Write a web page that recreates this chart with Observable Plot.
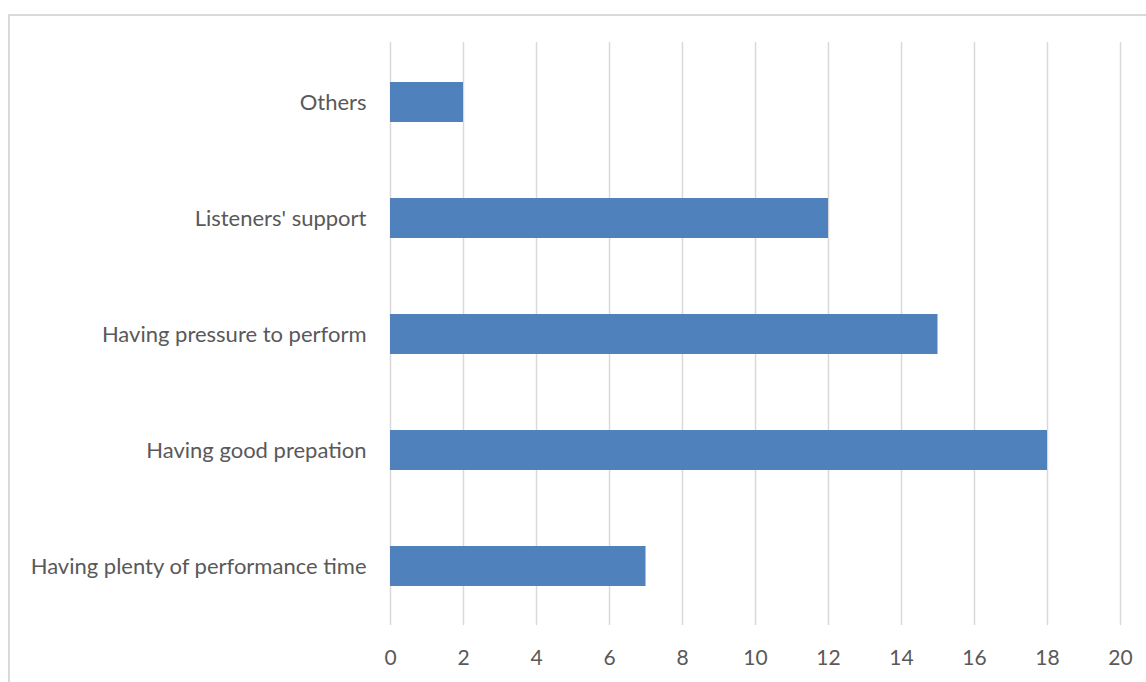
<!DOCTYPE html>
<html>
<head>
<meta charset="utf-8">
<script src="https://cdn.jsdelivr.net/npm/d3@7"></script>
<script src="https://cdn.jsdelivr.net/npm/@observablehq/plot@0.6"></script>
<style>
  html, body { margin: 0; padding: 0; background: #fff; overflow: hidden; }
  #wrap { position: relative; width: 1146px; height: 682px; }
  #frame { position: absolute; left: 8px; top: 14px; width: 1160px; height: 700px;
           border: 2px solid #d9d9d9; box-sizing: border-box; pointer-events: none; }
  #chart { position: absolute; left: 0; top: 0; }
</style>
</head>
<body>
<div id="wrap"><div id="frame"></div><div id="chart"></div></div>
<script>
const categories = [
  "Others",
  "Listeners' support",
  "Having pressure to perform",
  "Having good prepation",
  "Having plenty of performance time"
];
const values = [2, 12, 15, 18, 7];
const xTicks = [0, 2, 4, 6, 8, 10, 12, 14, 16, 18, 20];

const data = categories.map((c, i) => ({category: c, value: values[i]}));

const chart = Plot.plot({
  width: 1146,
  height: 682,
  marginLeft: 390,
  marginRight: 26,
  marginTop: 42,
  marginBottom: 57,
  style: {fontFamily: "Lato, 'Open Sans', sans-serif", fontSize: "21px", color: "#595959", background: "transparent"},
  x: {domain: [0, 20], ticks: xTicks, tickSize: 0, tickPadding: 25, label: null},
  y: {domain: categories, paddingInner: 0.657, paddingOuter: 0.3285, tickSize: 0, tickPadding: 24, label: null},
  marks: [
    Plot.gridX(xTicks, {stroke: "#d9d9d9", strokeOpacity: 1, strokeWidth: 1.5}),
    Plot.barX(data, {x: "value", y: "category", fill: "#4f81bd"}),
    Plot.axisX({ticks: xTicks, tickSize: 0, tickPadding: 25, fill: "#595959", fontSize: 21}),
    Plot.axisY({tickSize: 0, tickPadding: 24, fill: "#595959", fontSize: 22})
  ]
});
document.getElementById("chart").appendChild(chart);
</script>
</body>
</html>
